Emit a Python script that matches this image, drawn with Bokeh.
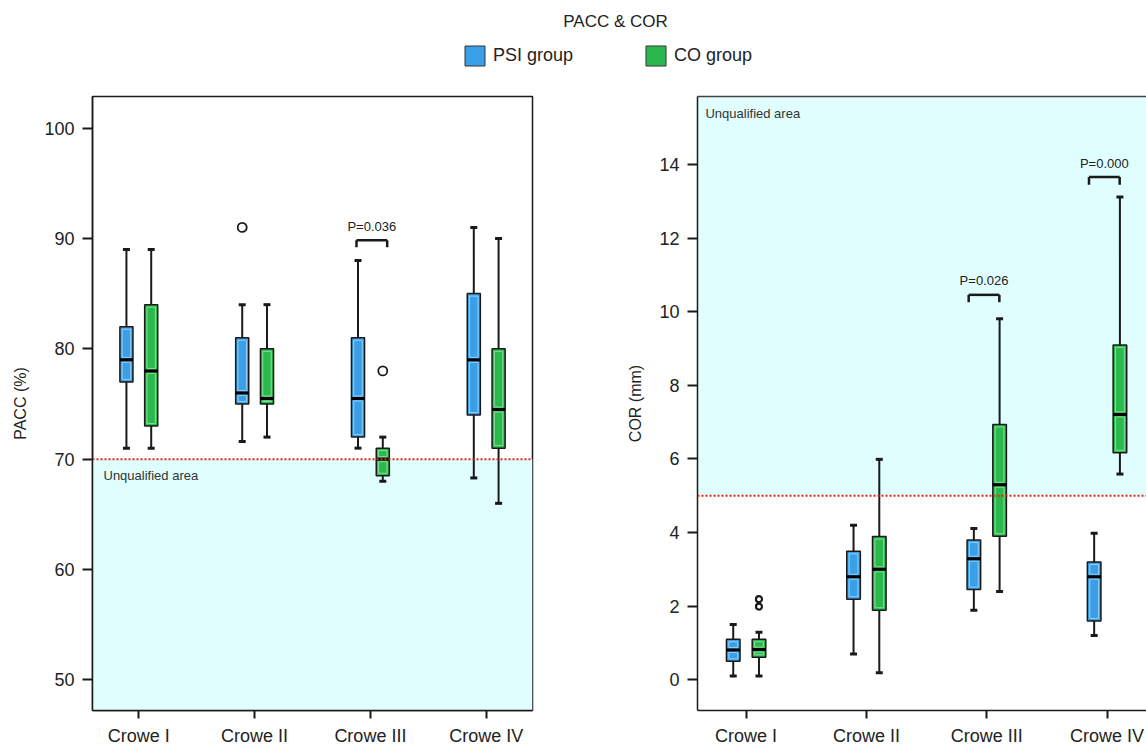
from bokeh.plotting import figure
from bokeh.models import (Range1d, FixedTicker, LinearAxis, BoxAnnotation, Span, Label,
                          Legend, LegendItem, ColumnDataSource)
from bokeh.layouts import column, row
from bokeh.embed import file_html
from bokeh.resources import INLINE
from bokeh.core.properties import value

# ---------------- data ----------------
categories = ["Crowe I", "Crowe II", "Crowe III", "Crowe IV"]
groups = ["PSI group", "CO group"]

# PACC (%)
pacc_psi_low = [71.0, 71.6, 71.0, 68.3]
pacc_psi_q1 = [77.0, 75.0, 72.0, 74.0]
pacc_psi_med = [79.0, 76.0, 75.5, 79.0]
pacc_psi_q3 = [82.0, 81.0, 81.0, 85.0]
pacc_psi_high = [89.0, 84.0, 88.0, 91.0]
pacc_co_low = [71.0, 72.0, 68.0, 66.0]
pacc_co_q1 = [73.0, 75.0, 68.5, 71.0]
pacc_co_med = [78.0, 75.5, 70.0, 74.5]
pacc_co_q3 = [84.0, 80.0, 71.0, 80.0]
pacc_co_high = [89.0, 84.0, 72.0, 90.0]
pacc_psi_out_cat = [2]
pacc_psi_out_val = [91.0]
pacc_co_out_cat = [3]
pacc_co_out_val = [78.0]
pacc_limit = 70.0
pacc_p_cat = [3]
pacc_p_text = ["P=0.036"]
pacc_p_top = [89.83]
pacc_p_leg = [89.2]
pacc_p_texty = [91.06]

# COR (mm)
cor_psi_low = [0.10, 0.70, 1.89, 1.20]
cor_psi_q1 = [0.50, 2.19, 2.45, 1.60]
cor_psi_med = [0.81, 2.80, 3.29, 2.80]
cor_psi_q3 = [1.10, 3.49, 3.80, 3.20]
cor_psi_high = [1.50, 4.20, 4.11, 3.98]
cor_co_low = [0.10, 0.19, 2.40, 5.59]
cor_co_q1 = [0.61, 1.89, 3.90, 6.17]
cor_co_med = [0.82, 3.00, 5.30, 7.21]
cor_co_q3 = [1.10, 3.89, 6.94, 9.10]
cor_co_high = [1.29, 5.99, 9.81, 13.12]
cor_co_out_cat = [1, 1]
cor_co_out_val = [2.19, 1.99]
cor_limit = 5.0
cor_p_cat = [3, 4]
cor_p_text = ["P=0.026", "P=0.000"]
cor_p_top = [10.46, 13.66]
cor_p_leg = [10.26, 13.45]
cor_p_texty = [10.85, 14.02]

# ---------------- style ----------------
FONT = "Liberation Sans"
PSI_COLOR = "#3A9FE6"
CO_COLOR = "#2BB84C"
PSI_LIGHT = "#92D0F7"
CO_LIGHT = "#86E09A"
DARK = "#1a1a1a"
TXT = "#222222"
CYAN = "#E0FEFE"
OFF = 0.107
BW = 0.113
xs = [1, 2, 3, 4]
FRAME_H = 616


def draw_group(p, pos, low, q1, med, q3, high, color, light, ppu):
    dy = 2.5 / ppu          # inner highlight inset (2.5 px) in data units
    dx = 0.02
    src = ColumnDataSource(dict(
        x=pos, low=low, q1=q1, med=med, q3=q3, high=high,
        xl=[v - BW / 2 for v in pos], xr=[v + BW / 2 for v in pos],
        a0=[v + dy for v in q1], a1=[v - dy for v in med],
        b0=[v + dy for v in med], b1=[v - dy for v in q3]))
    p.segment("x", "q3", "x", "high", source=src, line_color=DARK, line_width=2)
    p.segment("x", "low", "x", "q1", source=src, line_color=DARK, line_width=2)
    p.scatter("x", "high", source=src, marker="dash", size=7, line_width=3, line_color=DARK)
    p.scatter("x", "low", source=src, marker="dash", size=7, line_width=3, line_color=DARK)
    r = p.vbar(x="x", bottom="q1", top="q3", width=BW, source=src,
               fill_color=color, line_color=DARK, line_width=1.5)
    p.vbar(x="x", bottom="a0", top="a1", width=BW - 2 * dx, source=src,
           fill_color=None, line_color=light, line_width=1)
    p.vbar(x="x", bottom="b0", top="b1", width=BW - 2 * dx, source=src,
           fill_color=None, line_color=light, line_width=1)
    p.segment("xl", "med", "xr", "med", source=src, line_color="#000000", line_width=3)
    return r


def draw_brackets(p, cats, tops, legs, texts, texty, o0, o1):
    x0 = [c + o0 for c in cats]
    x1 = [c + o1 for c in cats]
    p.segment(x0, tops, x1, tops, line_color=DARK, line_width=2.5)
    p.segment(x0, tops, x0, legs, line_color=DARK, line_width=2.5)
    p.segment(x1, tops, x1, legs, line_color=DARK, line_width=2.5)
    p.text([(a + b) / 2 for a, b in zip(x0, x1)], texty, text=texts,
           text_align="center", text_baseline="middle",
           text_font=value(FONT), text_font_size="13px", text_color=TXT)


def style(p, yticks, ylabel):
    p.xgrid.grid_line_color = None
    p.ygrid.grid_line_color = None
    p.xaxis.ticker = FixedTicker(ticks=xs)
    p.xaxis.major_label_overrides = {x: c for x, c in zip(xs, categories)}
    p.yaxis.ticker = FixedTicker(ticks=yticks)
    for ax in p.axis:
        ax.axis_line_color = DARK
        ax.axis_line_width = 1.5
        ax.major_tick_line_color = DARK
        ax.major_tick_line_width = 2
        ax.minor_tick_line_color = None
        ax.major_tick_in = 0
        ax.major_label_text_font = FONT
        ax.major_label_text_color = TXT
        ax.major_label_text_font_size = "18px"
    p.xaxis.major_tick_out = 8
    p.xaxis.major_label_standoff = 7
    p.yaxis.major_tick_out = 10
    p.yaxis.major_label_standoff = 8
    p.yaxis.axis_label = ylabel
    p.yaxis.axis_label_text_font = FONT
    p.yaxis.axis_label_text_font_style = "normal"
    p.yaxis.axis_label_text_font_size = "16px"
    p.yaxis.axis_label_text_color = TXT
    p.yaxis.axis_label_standoff = 12


# ---------------- header ----------------
head = figure(width=1146, height=86, x_range=Range1d(0, 1), y_range=Range1d(0, 1),
              x_axis_type=None, y_axis_type=None, toolbar_location=None,
              output_backend="svg", min_border=0)
head.outline_line_color = None
head.grid.visible = False
# legend proxies (kept outside the visible range)
lr1 = head.vbar(x=[5], bottom=[5], top=[6], width=0.1, fill_color=PSI_COLOR,
                line_color="#333333", line_width=1)
lr2 = head.vbar(x=[5], bottom=[5], top=[6], width=0.1, fill_color=CO_COLOR,
                line_color="#333333", line_width=1)
legend = Legend(items=[LegendItem(label=groups[0], renderers=[lr1]),
                       LegendItem(label=groups[1], renderers=[lr2])],
                orientation="horizontal", location=(462, 18),
                glyph_width=25, glyph_height=25, label_standoff=6, spacing=70,
                padding=0, margin=0, border_line_color=None, background_fill_alpha=0,
                label_text_font=FONT, label_text_font_size="18px", label_text_color=TXT)
head.add_layout(legend)
head.add_layout(Label(x=615, y=65, x_units="screen", y_units="screen", text="PACC & COR",
                      text_align="center", text_baseline="middle", text_font=FONT,
                      text_font_size="17px", text_color=TXT))

# ---------------- PACC ----------------
p1 = figure(width=568, height=662, x_range=Range1d(0.6, 4.4), y_range=Range1d(47.23, 102.86),
            toolbar_location=None, output_backend="svg",
            min_border_left=92, min_border_right=36, min_border_top=10, min_border_bottom=36)
p1.outline_line_color = DARK
p1.outline_line_width = 1.5
p1.outline_line_alpha = 1
style(p1, [50, 60, 70, 80, 90, 100], "PACC (%)")
ppu1 = FRAME_H / (102.86 - 47.23)
p1.add_layout(BoxAnnotation(top=pacc_limit, fill_color=CYAN, fill_alpha=1, line_alpha=0, level="underlay"))
draw_group(p1, [x - OFF for x in xs], pacc_psi_low, pacc_psi_q1, pacc_psi_med, pacc_psi_q3,
           pacc_psi_high, PSI_COLOR, PSI_LIGHT, ppu1)
draw_group(p1, [x + OFF for x in xs], pacc_co_low, pacc_co_q1, pacc_co_med, pacc_co_q3,
           pacc_co_high, CO_COLOR, CO_LIGHT, ppu1)
p1.scatter([c - OFF for c in pacc_psi_out_cat], pacc_psi_out_val, marker="circle", size=9,
           fill_color="white", line_color=DARK, line_width=1.8)
p1.scatter([c + OFF for c in pacc_co_out_cat], pacc_co_out_val, marker="circle", size=9,
           fill_color="white", line_color=DARK, line_width=1.8)
p1.add_layout(Span(location=pacc_limit, dimension="width", line_color="#E3261C",
                   line_width=2, line_dash="2 2"))
draw_brackets(p1, pacc_p_cat, pacc_p_top, pacc_p_leg, pacc_p_text, pacc_p_texty, -0.12, 0.145)
p1.text([0.695], [68.55], text=["Unqualified area"], text_align="left", text_baseline="middle",
        text_font=value(FONT), text_font_size="13px", text_color="#333333")

# ---------------- COR ----------------
p2 = figure(width=578, height=662, x_range=Range1d(0.596, 4.328), y_range=Range1d(-0.835, 15.85),
            toolbar_location=None, output_backend="svg",
            min_border_left=129, min_border_right=0, min_border_top=10, min_border_bottom=36)
p2.outline_line_color = None
style(p2, [0, 2, 4, 6, 8, 10, 12, 14], "COR (mm)")
ppu2 = FRAME_H / (15.85 + 0.835)
top_axis = LinearAxis(ticker=FixedTicker(ticks=[]), axis_line_color="#444444", axis_line_width=1.5,
                      major_tick_line_color=None, minor_tick_line_color=None,
                      major_label_text_font_size="0px")
p2.add_layout(top_axis, "above")
p2.add_layout(BoxAnnotation(bottom=cor_limit, fill_color=CYAN, fill_alpha=1, line_alpha=0, level="underlay"))
draw_group(p2, [x - OFF for x in xs], cor_psi_low, cor_psi_q1, cor_psi_med, cor_psi_q3,
           cor_psi_high, PSI_COLOR, PSI_LIGHT, ppu2)
draw_group(p2, [x + OFF for x in xs], cor_co_low, cor_co_q1, cor_co_med, cor_co_q3,
           cor_co_high, CO_COLOR, CO_LIGHT, ppu2)
p2.scatter([c + OFF for c in cor_co_out_cat], cor_co_out_val, marker="circle", size=6,
           fill_color="white", line_color=DARK, line_width=2.2)
p2.add_layout(Span(location=cor_limit, dimension="width", line_color="#E3261C",
                   line_width=2, line_dash="2 2"))
draw_brackets(p2, cor_p_cat, cor_p_top, cor_p_leg, cor_p_text, cor_p_texty, -0.15, 0.105)
p2.text([0.662], [15.39], text=["Unqualified area"], text_align="left", text_baseline="middle",
        text_font=value(FONT), text_font_size="13px", text_color="#333333")

layout = column(head, row(p1, p2))
open("out.html", "w").write(file_html(layout, INLINE))
